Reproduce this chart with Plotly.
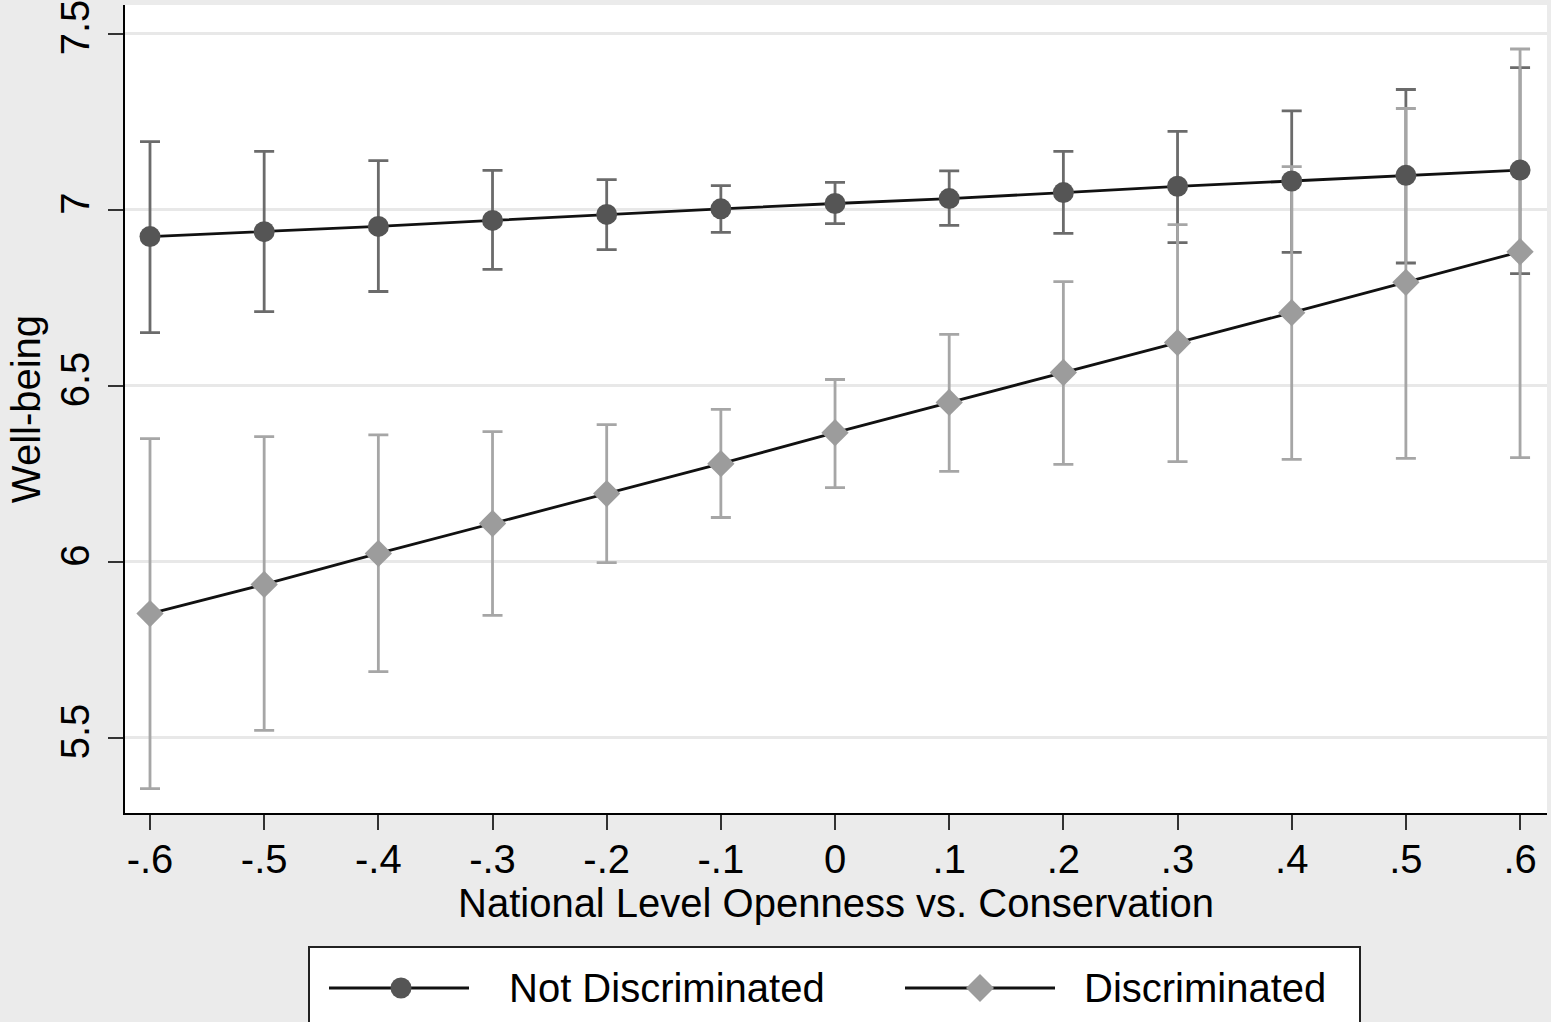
import plotly.graph_objects as go

# ---------------- data ----------------
x_vals = [-0.6, -0.5, -0.4, -0.3, -0.2, -0.1, 0.0, 0.1, 0.2, 0.3, 0.4, 0.5, 0.6]
x_tick_labels = ["-.6", "-.5", "-.4", "-.3", "-.2", "-.1", "0", ".1", ".2", ".3", ".4", ".5", ".6"]

not_disc_mean = [6.923, 6.937, 6.952, 6.969, 6.986, 7.002, 7.017, 7.031, 7.048, 7.066, 7.081, 7.097, 7.112]
not_disc_upper = [7.193, 7.165, 7.139, 7.111, 7.085, 7.068, 7.077, 7.110, 7.165, 7.222, 7.280, 7.341, 7.403]
not_disc_lower = [6.650, 6.710, 6.767, 6.830, 6.886, 6.935, 6.960, 6.955, 6.932, 6.906, 6.878, 6.848, 6.818]

disc_mean = [5.852, 5.935, 6.023, 6.108, 6.193, 6.278, 6.366, 6.452, 6.537, 6.622, 6.707, 6.793, 6.880]
disc_upper = [6.349, 6.355, 6.360, 6.369, 6.389, 6.432, 6.517, 6.645, 6.795, 6.957, 7.122, 7.287, 7.456]
disc_lower = [5.355, 5.520, 5.687, 5.847, 5.997, 6.125, 6.210, 6.256, 6.276, 6.284, 6.290, 6.293, 6.295]

y_tick_vals = [5.5, 6, 6.5, 7, 7.5]
y_tick_labels = ["5.5", "6", "6.5", "7", "7.5"]

series_names = ["Not Discriminated", "Discriminated"]
x_title = "National Level Openness vs. Conservation"
y_title = "Well-being"

# ---------------- style ----------------
FONT = "Liberation Sans, Arial, Helvetica, sans-serif"
DARK_MARK = "#555555"
DARK_ERR = "#6b6b6b"
LIGHT_MARK = "#9c9c9c"
LIGHT_ERR = "#a6a6a6"
BG = "#ebebeb"

W, H = 1551, 1022
ML, MR, MT, MB = 125, 4, 5, 209
PW = W - ML - MR
PH = H - MT - MB


def px_to_paper_x(px):
    return (px - ML) / PW


def px_to_paper_y(py):
    return (H - MB - py) / PH


fig = go.Figure()

# error bars (drawn beneath lines and markers)
for mean, up, lo, col in [
    (not_disc_mean, not_disc_upper, not_disc_lower, DARK_ERR),
    (disc_mean, disc_upper, disc_lower, LIGHT_ERR),
]:
    fig.add_trace(go.Scatter(
        x=x_vals, y=mean, mode="markers",
        marker=dict(size=1, color="rgba(0,0,0,0)"),
        error_y=dict(type="data", symmetric=False,
                     array=[u - m for u, m in zip(up, mean)],
                     arrayminus=[m - l for l, m in zip(lo, mean)],
                     color=col, thickness=2.8, width=10),
        showlegend=False, hoverinfo="skip",
    ))

fig.add_trace(go.Scatter(
    x=x_vals, y=not_disc_mean, mode="lines+markers", name=series_names[0],
    line=dict(color="#111111", width=2.8),
    marker=dict(symbol="circle", size=21, color=DARK_MARK, line=dict(width=0)),
    showlegend=False,
))
fig.add_trace(go.Scatter(
    x=x_vals, y=disc_mean, mode="lines+markers", name=series_names[1],
    line=dict(color="#111111", width=2.8),
    marker=dict(symbol="diamond", size=21, color=LIGHT_MARK, line=dict(width=0)),
    showlegend=False,
))

# ---------------- manual legend (Stata style) ----------------
shapes = []
annotations = []
shapes.append(dict(type="rect", xref="paper", yref="paper",
                   x0=px_to_paper_x(309), x1=px_to_paper_x(1360),
                   y0=px_to_paper_y(947), y1=px_to_paper_y(1060),
                   line=dict(color="#222222", width=2), fillcolor="white", layer="below"))
leg_y = px_to_paper_y(988)
items = [
    (series_names[0], 329, 469, 401, "circle", DARK_MARK, 507),
    (series_names[1], 905, 1055, 980, "diamond", LIGHT_MARK, 1082),
]
for name, lx0, lx1, mx, sym, col, tx in items:
    shapes.append(dict(type="line", xref="paper", yref="paper",
                       x0=px_to_paper_x(lx0), x1=px_to_paper_x(lx1), y0=leg_y, y1=leg_y,
                       line=dict(color="#111111", width=2.8)))
    if sym == "circle":
        shapes.append(dict(type="circle", xref="paper", yref="paper",
                           xsizemode="pixel", ysizemode="pixel",
                           xanchor=px_to_paper_x(mx), yanchor=leg_y,
                           x0=-10.5, x1=10.5, y0=-10.5, y1=10.5,
                           fillcolor=col, line=dict(width=0)))
    else:
        shapes.append(dict(type="path", xref="paper", yref="paper",
                           xsizemode="pixel", ysizemode="pixel",
                           xanchor=px_to_paper_x(mx), yanchor=leg_y,
                           path="M -14 0 L 0 14 L 14 0 L 0 -14 Z",
                           fillcolor=col, line=dict(width=0)))
    annotations.append(dict(text=name, xref="paper", yref="paper",
                            x=px_to_paper_x(tx), y=leg_y, xanchor="left", yanchor="middle",
                            showarrow=False, font=dict(family=FONT, size=40, color="black")))

fig.update_layout(
    width=W, height=H,
    margin=dict(l=ML, r=MR, t=MT, b=MB, autoexpand=False),
    paper_bgcolor=BG, plot_bgcolor="white",
    font=dict(family=FONT, size=40, color="black"),
    shapes=shapes, annotations=annotations,
    showlegend=False,
)

fig.update_xaxes(
    range=[-0.6219, 0.6236],
    tickvals=x_vals, ticktext=x_tick_labels,
    showgrid=False, zeroline=False,
    showline=True, linecolor="black", linewidth=2,
    ticks="outside", ticklen=15, tickwidth=2, tickcolor="#333333",
    ticklabelstandoff=-5,
    tickfont=dict(family=FONT, size=40, color="black"),
    title=dict(text=x_title, font=dict(family=FONT, size=40, color="black"), standoff=8),
)
fig.update_yaxes(
    range=[5.2855, 7.581],
    tickvals=y_tick_vals, ticktext=y_tick_labels, tickangle=-90,
    ticklabeloverflow="allow",
    showgrid=True, gridcolor="#e8e8e8", gridwidth=2.5, zeroline=False,
    showline=True, linecolor="black", linewidth=2,
    ticks="outside", ticklen=15, tickwidth=2, tickcolor="#333333",
    ticklabelstandoff=3,
    tickfont=dict(family=FONT, size=40, color="black"),
    title=dict(text=y_title, font=dict(family=FONT, size=40, color="black"), standoff=0),
)

fig.write_html("out.html")
